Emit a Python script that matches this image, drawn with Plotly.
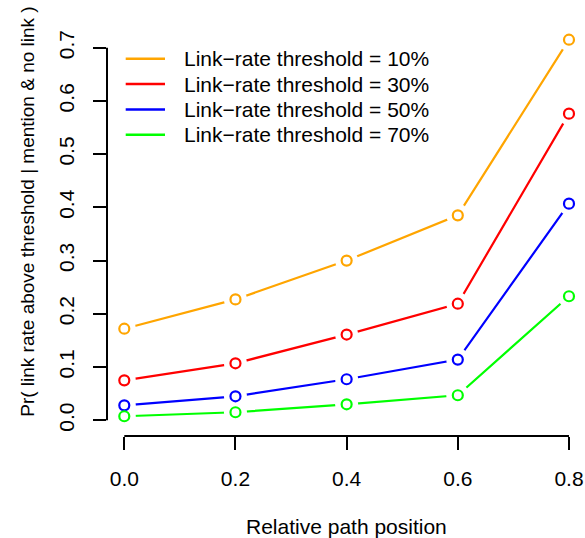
import plotly.graph_objects as go

positions = [0.0, 0.2, 0.4, 0.6, 0.8]
thr10 = [0.172, 0.227, 0.300, 0.385, 0.715]
thr30 = [0.075, 0.107, 0.161, 0.219, 0.576]
thr50 = [0.028, 0.045, 0.077, 0.114, 0.407]
thr70 = [0.0075, 0.015, 0.030, 0.047, 0.233]
series = [thr10, thr30, thr50, thr70]
labels = ["Link\u2212rate threshold = 10%", "Link\u2212rate threshold = 30%",
          "Link\u2212rate threshold = 50%", "Link\u2212rate threshold = 70%"]
colors = ["#FFA500", "#FF0000", "#0000FF", "#00FF00"]
xticks = [0.0, 0.2, 0.4, 0.6, 0.8]
yticks = [0.0, 0.1, 0.2, 0.3, 0.4, 0.5, 0.6, 0.7]

W, H = 585, 538
L, R, T, B = 107, 0, 24, 101.5
PW, PH = W - L - R, H - T - B
FONT = "Liberation Sans, Arial, sans-serif"
FS = 21

def px(x):
    return (x - L) / PW

def py(y):
    return (H - B - y) / PH

fig = go.Figure()
for ys, c in zip(series, colors):
    fig.add_trace(go.Scatter(x=positions, y=ys, mode="lines",
                             line=dict(color=c, width=2.2), showlegend=False, hoverinfo="skip"))
for ys, c in zip(series, colors):
    fig.add_trace(go.Scatter(x=positions, y=ys, mode="markers",
                             marker=dict(symbol="circle", size=23, color="white", line=dict(width=0)),
                             showlegend=False, hoverinfo="skip"))
for ys, c in zip(series, colors):
    fig.add_trace(go.Scatter(x=positions, y=ys, mode="markers",
                             marker=dict(symbol="circle-open", size=10, color=c, line=dict(width=2.2, color=c)),
                             showlegend=False, hoverinfo="skip"))

# R-style axis lines spanning first to last tick
fig.add_shape(type="line", xref="x", yref="y domain", x0=xticks[0], x1=xticks[-1], y0=0, y1=0,
              line=dict(color="black", width=2))
fig.add_shape(type="line", xref="x domain", yref="y", x0=0, x1=0, y0=yticks[0], y1=yticks[-1],
              line=dict(color="black", width=2))

# legend
for i, (lab, c) in enumerate(zip(labels, colors)):
    yy = 58.7 + i * 25.4
    fig.add_shape(type="line", xref="paper", yref="paper", x0=px(125.7), x1=px(165), y0=py(yy), y1=py(yy),
                  line=dict(color=c, width=2.5))
    fig.add_annotation(text=lab, xref="paper", yref="paper", x=px(182), y=py(yy), xanchor="left",
                       yanchor="middle", showarrow=False, font=dict(family=FONT, size=FS, color="black"))

fig.add_annotation(text="Relative path position", xref="paper", yref="paper", x=0.5 * (px(124.3) + px(569)),
                   y=py(527), xanchor="center", yanchor="middle", showarrow=False,
                   font=dict(family=FONT, size=FS, color="black"))
fig.add_annotation(text="Pr( link rate above threshold | mention & no link )", xref="paper", yref="paper",
                   x=px(28), y=py(212), xanchor="center", yanchor="middle", textangle=-90, showarrow=False,
                   font=dict(family=FONT, size=19, color="black"))

fig.update_layout(
    width=W, height=H, margin=dict(l=L, r=R, t=T, b=B),
    plot_bgcolor="white", paper_bgcolor="white",
    font=dict(family=FONT, size=FS, color="black"),
    xaxis=dict(range=[-0.0311, 0.8288], tickvals=xticks, ticktext=[f"{v:.1f}" for v in xticks],
               ticks="outside", ticklen=13, tickwidth=2, tickcolor="black", showgrid=False,
               zeroline=False, showline=False, ticklabelstandoff=11),
    yaxis=dict(range=[-0.0296, 0.7445], tickvals=yticks, ticktext=[f"{v:.1f}" for v in yticks],
               ticks="outside", ticklen=13, tickwidth=2, tickcolor="black", showgrid=False,
               zeroline=False, showline=False, tickangle=-90, ticklabelstandoff=11),
)
fig.write_html("out.html")
